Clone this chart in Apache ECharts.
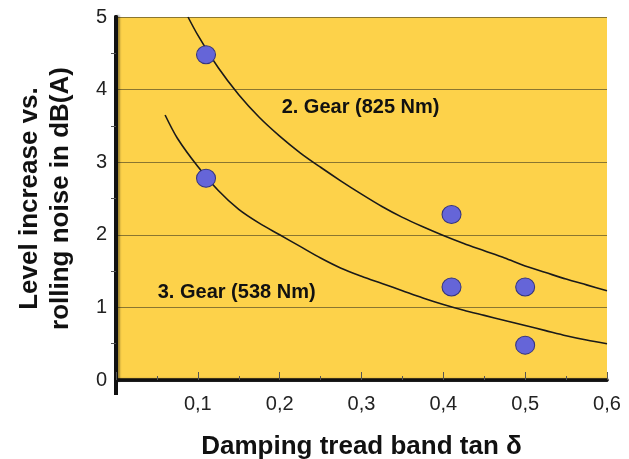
<!DOCTYPE html>
<html>
<head>
<meta charset="utf-8">
<script src="https://cdn.jsdelivr.net/npm/echarts@6/dist/echarts.min.js"></script>
<style>html,body{margin:0;padding:0;background:#fff}#c{width:629px;height:459px}</style>
</head>
<body>
<div id="c"></div>
<script>
// measured points (tan delta, dB(A))
var gear2Points = [[0.11, 4.48], [0.41, 2.28], [0.50, 1.28]];
var gear3Points = [[0.11, 2.78], [0.41, 1.28], [0.50, 0.48]];
// fitted curves
var gear2Curve = [[0.088, 5.0], [0.10, 4.75], [0.125, 4.3], [0.15, 3.93], [0.175, 3.62], [0.20, 3.36], [0.225, 3.13], [0.25, 2.93], [0.275, 2.74], [0.30, 2.56], [0.325, 2.39], [0.35, 2.24], [0.375, 2.11], [0.40, 1.99], [0.425, 1.88], [0.45, 1.78], [0.475, 1.68], [0.50, 1.57], [0.525, 1.48], [0.55, 1.39], [0.575, 1.31], [0.60, 1.23]];
var gear3Curve = [[0.06, 3.65], [0.075, 3.33], [0.10, 2.94], [0.125, 2.61], [0.15, 2.35], [0.175, 2.16], [0.20, 2.0], [0.225, 1.84], [0.25, 1.68], [0.275, 1.54], [0.30, 1.43], [0.325, 1.33], [0.35, 1.23], [0.375, 1.13], [0.40, 1.04], [0.425, 0.96], [0.45, 0.89], [0.475, 0.82], [0.50, 0.75], [0.525, 0.68], [0.55, 0.61], [0.575, 0.55], [0.60, 0.50]];
var annotations = [
  {text: '2. Gear (825 Nm)', at: [0.2024, 3.75]},
  {text: '3. Gear (538 Nm)', at: [0.051, 1.21]}
];
var stubAxisEnds = ['start', 'end'];
var yTicks = [0, 1, 2, 3, 4, 5];

var chart = echarts.init(document.getElementById('c'), null, {renderer: 'canvas'});
var font = '"Liberation Sans", Arial, sans-serif';
var dotStyle = {color: '#6565D8', borderColor: '#34347E', borderWidth: 1, opacity: 1};

chart.setOption({
  animation: false,
  backgroundColor: '#fff',
  grid: {left: 116, right: 22, top: 17, bottom: 79, show: true, backgroundColor: '#FDD24A', borderWidth: 0, containLabel: false, outerBoundsMode: 'none'},
  xAxis: [{
    type: 'value', min: 0, max: 0.6, interval: 0.1, position: 'bottom',
    axisLine: {lineStyle: {color: '#111', width: 3.5}},
    axisTick: {inside: true, length: 8, lineStyle: {color: '#555', width: 1}},
    minorTick: {show: true, splitNumber: 2, length: 4, lineStyle: {color: '#555', width: 1}},
    splitLine: {show: false},
    axisLabel: {
      margin: 14, fontSize: 20, color: '#222', fontFamily: font,
      formatter: function (v) { return (v === 0) ? '' : v.toFixed(1).replace('.', ','); }
    },
    name: 'Damping tread band tan δ', nameLocation: 'middle', nameGap: 54,
    nameTextStyle: {fontSize: 26, fontWeight: 'bold', color: '#111', fontFamily: font}
  }, {
    type: 'value', min: 0, max: 0.6, position: 'top',
    axisLine: {lineStyle: {color: '#111', width: 2.5, shadowColor: 'rgba(0,0,0,0.25)', shadowOffsetY: -1, shadowBlur: 2}},
    axisTick: {show: false}, axisLabel: {show: false}, splitLine: {show: false}
  }, {
    // only carries the short stub of the y axis below the x axis
    type: 'category', data: stubAxisEnds, boundaryGap: false, position: 'bottom',
    axisLine: {show: false},
    axisTick: {show: true, length: 15, interval: function (i) { return i === 0; }, lineStyle: {color: '#111', width: 4}},
    axisLabel: {show: false}, splitLine: {show: false}
  }],
  yAxis: [{
    type: 'value', min: 0, max: 5, interval: 1, position: 'left',
    axisLine: {show: true, lineStyle: {color: '#111', width: 4}},
    axisTick: {show: false},
    minorTick: {show: true, splitNumber: 2, length: 5, lineStyle: {color: '#555', width: 1}},
    splitLine: {show: true, lineStyle: {color: '#8A7630', width: 1}},
    axisLabel: {margin: 9, fontSize: 20, color: '#222', fontFamily: font,
      formatter: function (v) { return yTicks.indexOf(v) >= 0 ? String(v) : ''; }},
    name: 'Level increase vs.\nrolling noise in dB(A)', nameLocation: 'middle', nameGap: 40,
    nameTextStyle: {fontSize: 26, fontWeight: 'bold', color: '#111', lineHeight: 31, fontFamily: font}
  }, {
    type: 'value', min: 0, max: 5, position: 'right',
    axisLine: {show: true, lineStyle: {color: '#111', width: 4, shadowColor: 'rgba(0,0,0,0.35)', shadowOffsetX: 2, shadowBlur: 2}},
    axisTick: {show: false}, axisLabel: {show: false}, splitLine: {show: false}
  }],
  series: [
    {type: 'line', data: gear2Curve, smooth: 0.3, showSymbol: false, lineStyle: {color: '#1a1a1a', width: 1.6}},
    {type: 'line', data: gear3Curve, smooth: 0.3, showSymbol: false, lineStyle: {color: '#1a1a1a', width: 1.6}},
    {type: 'scatter', data: gear2Points, symbol: 'circle', symbolSize: [19, 18], itemStyle: dotStyle, z: 5},
    {type: 'scatter', data: gear3Points, symbol: 'circle', symbolSize: [19, 18], itemStyle: dotStyle, z: 5},
    {type: 'scatter', symbolSize: 0, silent: true, z: 6, itemStyle: {opacity: 1},
      data: annotations.map(function (a) { return {value: a.at, name: a.text}; }),
      label: {show: true, position: 'right', distance: 0, formatter: '{b}', opacity: 1,
        fontSize: 20, fontWeight: 'bold', color: '#111', fontFamily: font}}
  ]
});
</script>
</body>
</html>
